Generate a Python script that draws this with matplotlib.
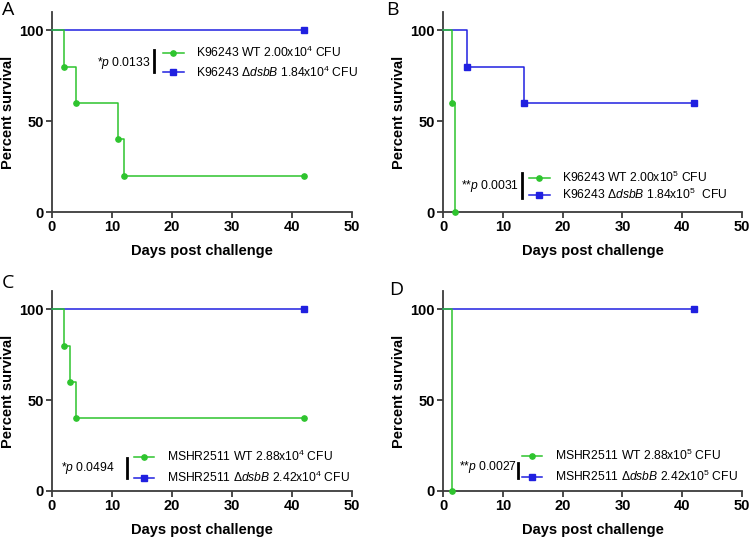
import matplotlib
matplotlib.use('Agg')
import matplotlib.pyplot as plt

plt.rcParams['font.family'] = 'Liberation Sans'
plt.rcParams['mathtext.fontset'] = 'custom'
plt.rcParams['mathtext.rm'] = 'Liberation Sans'
plt.rcParams['mathtext.it'] = 'Liberation Sans:italic'

GREEN = '#2EC42E'
BLUE = '#2020E0'
AXCOL = '#3c3c3c'

# survival data (days, percent surviving), one pair per curve
a_wt_days = [0, 2, 4, 11, 12, 42]
a_wt_surv = [100, 80, 60, 40, 20, 20]
a_mut_days = [0, 42]
a_mut_surv = [100, 100]

b_wt_days = [0, 1.5, 2]
b_wt_surv = [100, 60, 0]
b_mut_days = [0, 4, 13.5, 42]
b_mut_surv = [100, 80, 60, 60]

c_wt_days = [0, 2, 3, 4, 42]
c_wt_surv = [100, 80, 60, 40, 40]
c_mut_days = [0, 42]
c_mut_surv = [100, 100]

d_wt_days = [0, 1.5]
d_wt_surv = [100, 0]
d_mut_days = [0, 42]
d_mut_surv = [100, 100]

panel_letters = ['A', 'B', 'C', 'D']
wt_labels = [r'K96243 WT 2.00x10$^4$ CFU',
             r'K96243 WT 2.00x10$^5$ CFU',
             r'MSHR2511 WT 2.88x10$^4$ CFU',
             r'MSHR2511 WT 2.88x10$^5$ CFU']
mut_labels = [r'K96243 $\Delta\it{dsbB}$ 1.84x10$^4$ CFU',
              r'K96243 $\Delta\it{dsbB}$ 1.84x10$^5$  CFU',
              r'MSHR2511 $\Delta\it{dsbB}$ 2.42x10$^4$ CFU',
              r'MSHR2511 $\Delta\it{dsbB}$ 2.42x10$^5$ CFU']
p_labels = [r'*$\it{p}$ 0.0133', r'**$\it{p}$ 0.0031',
            r'*$\it{p}$ 0.0494', r'**$\it{p}$ 0.0027']

W, H = 750, 537
fig = plt.figure(figsize=(7.5, 5.37), dpi=100)

rects = [(52, 212, 300), (443, 212, 299), (52, 491, 300), (443, 491, 299)]
# legend anchor (x of handle, y centre), bar x / y0 / y1, p-text right x / y, in axes fraction
leg_pos = [(0.37, 0.748), (0.288, 0.13), (0.273, 0.12), (0.264, 0.125)]
leg_space = [0.35, 0.1, 0.43, 0.43]
bar_pos = [(0.34, 0.70, 0.81), (0.264, 0.07, 0.195), (0.25, 0.065, 0.165), (0.251, 0.065, 0.14)]
p_pos = [(0.327, 0.745), (0.254, 0.13), (0.21, 0.115), (0.246, 0.12)]
letter_pos = [(2, 15), (386, 15), (2, 288), (389, 295)]

data = [
    (a_wt_days, a_wt_surv, a_mut_days, a_mut_surv),
    (b_wt_days, b_wt_surv, b_mut_days, b_mut_surv),
    (c_wt_days, c_wt_surv, c_mut_days, c_mut_surv),
    (d_wt_days, d_wt_surv, d_mut_days, d_mut_surv),
]

for i, (wd, ws, md, ms) in enumerate(data):
    x0, ybot, w = rects[i]
    ax = fig.add_axes([x0 / W, 1 - ybot / H, w / W, 200 / H])

    mut, = ax.step(md, ms, where='post', color=BLUE, lw=1.1, marker='s', ms=4.2,
                   markevery=slice(1, None), clip_on=False, zorder=3)
    wt, = ax.step(wd, ws, where='post', color=GREEN, lw=1.1, marker='o', ms=3.8,
                  markevery=slice(1, None), clip_on=False, zorder=4)

    ax.set_xlim(0, 50)
    ax.set_ylim(0, 110)
    ax.set_xticks([0, 10, 20, 30, 40, 50])
    ax.set_yticks([0, 50, 100])
    for s in ['top', 'right']:
        ax.spines[s].set_visible(False)
    for s in ['left', 'bottom']:
        ax.spines[s].set_color(AXCOL)
        ax.spines[s].set_linewidth(1.3)
    ax.tick_params(direction='out', length=4, width=1.3, color=AXCOL, pad=2,
                   labelsize=10.5)
    for lab in ax.get_xticklabels() + ax.get_yticklabels():
        lab.set_fontweight('bold')

    ax.set_xlabel('Days post challenge', fontsize=10.5, fontweight='bold')
    ax.set_ylabel('Percent survival', fontsize=10.5, fontweight='bold')
    ax.xaxis.set_label_coords(0.5, -0.16)
    ax.yaxis.set_label_coords(-0.123, 0.5)

    ax.legend([wt, mut], [wt_labels[i], mut_labels[i]], loc='center left',
              bbox_to_anchor=leg_pos[i], frameon=False, borderpad=0, borderaxespad=0,
              handlelength=1.7, handletextpad=1.0, labelspacing=leg_space[i],
              prop={'size': 8.7})

    bx, by0, by1 = bar_pos[i]
    ax.plot([bx, bx], [by0, by1], transform=ax.transAxes, color='black', lw=2,
            clip_on=False)
    px, py = p_pos[i]
    ax.text(px, py, p_labels[i], transform=ax.transAxes, ha='right', va='center',
            fontsize=8.7)

    lx, ly = letter_pos[i]
    fig.text(lx / W, 1 - ly / H, panel_letters[i], ha='left', va='baseline',
             fontsize=14, family='Open Sans')

fig.savefig('out.png', dpi=100)
